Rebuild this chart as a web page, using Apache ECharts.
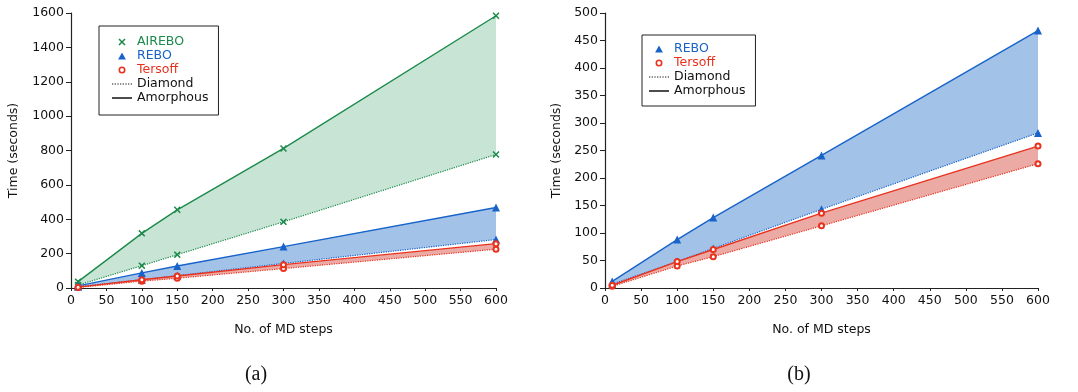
<!DOCTYPE html>
<html><head><meta charset="utf-8">
<script src="https://cdn.jsdelivr.net/npm/echarts@6/dist/echarts.min.js"></script>
<style>html,body{margin:0;padding:0;background:#fff}#c{width:1078px;height:392px}</style>
</head><body><div id="c"></div>
<script>
// ---- data ----
const steps = [10, 100, 150, 300, 600];
const aireboAmorphous = [37, 318, 455, 812, 1584];
const aireboDiamond = [17, 130, 194, 385, 777];
const reboAmorphous = [12, 88, 128, 241, 468];
const reboDiamond = [7, 48, 72, 143, 282];
const tersoffAmorphous = [5, 48, 70, 136, 258];
const tersoffDiamond = [3, 40, 57, 113, 226];
const captions = ['(a)', '(b)'];

// ---- styling ----
const FONT = 'DejaVu Sans';
const C = {
  green: '#1b8a4b', greenFill: '#c8e4d5',
  blue: '#1763c9', blueFill: '#a3c2e8',
  red: '#e8321e', redFill: '#ecaaa5'
};
const iconCross = 'path://M0,1.5L1.5,0L5,3.5L8.5,0L10,1.5L6.5,5L10,8.5L8.5,10L5,6.5L1.5,10L0,8.5L3.5,5Z';
const iconTri = 'path://M5,0L10,9L0,9Z';
const iconRing = 'path://M5,0A5,5,0,1,1,5,10A5,5,0,1,1,5,0ZM5,2.3A2.7,2.7,0,1,0,5,7.7A2.7,2.7,0,1,0,5,2.3Z';
const iconSolid = 'path://M0,0L20,0L20,1.5L0,1.5Z';
let dp = '';
for (let x = 0; x < 20; x += 2.6) dp += 'M' + x + ',0L' + (x + 1.2) + ',0L' + (x + 1.2) + ',1.2L' + x + ',1.2Z';
const iconDotted = 'path://' + dp;

function group(name, amorph, diamond, color, fill, symbol, size, idx, z, extra) {
  const itemStyle = Object.assign({ color: color }, extra || {});
  const bandData = steps.map((s, i) => [s, diamond[i], amorph[i]]);
  return [
    {
      name: name + ' band', type: 'custom', xAxisIndex: idx, yAxisIndex: idx, z: z,
      data: bandData, encode: { x: 0, y: [1, 2] }, silent: true,
      renderItem: function (params, api) {
        if (params.dataIndex !== 0) return null;
        const top = bandData.map(d => api.coord([d[0], d[2]]));
        const bot = bandData.map(d => api.coord([d[0], d[1]])).reverse();
        return { type: 'polygon', shape: { points: top.concat(bot) }, style: { fill: fill } };
      }
    },
    {
      name: name + ' diamond', type: 'line', xAxisIndex: idx, yAxisIndex: idx, z: z + 1,
      data: steps.map((s, i) => [s, diamond[i]]),
      symbol: symbol, symbolSize: size, showSymbol: true, itemStyle: itemStyle,
      lineStyle: { color: color, width: 1.2, type: 'dotted' }, emphasis: { disabled: true }
    },
    {
      name: name, type: 'line', xAxisIndex: idx, yAxisIndex: idx, z: z + 1,
      data: steps.map((s, i) => [s, amorph[i]]),
      symbol: symbol, symbolSize: size, showSymbol: true, itemStyle: itemStyle,
      lineStyle: { color: color, width: 1.4 }, emphasis: { disabled: true }
    }
  ];
}

const axisBase = {
  axisLine: { show: true, lineStyle: { color: '#222', width: 1.2 } },
  splitLine: { show: false },
  axisLabel: { color: '#111', fontFamily: FONT, fontSize: 12.5, formatter: v => String(v) },
  nameTextStyle: { color: '#111', fontFamily: FONT, fontSize: 12.5 },
  nameLocation: 'middle'
};
function xAx(idx) {
  return Object.assign({}, axisBase, {
    type: 'value', gridIndex: idx, min: 0, max: 600, interval: 50,
    name: 'No. of MD steps', nameGap: 35,
    axisTick: { show: true, length: 3, lineStyle: { color: '#222' } },
    axisLabel: Object.assign({}, axisBase.axisLabel, { margin: 6 })
  });
}
function yAx(idx, max, interval, gap) {
  return Object.assign({}, axisBase, {
    type: 'value', gridIndex: idx, min: 0, max: max, interval: interval,
    name: 'Time (seconds)', nameGap: gap,
    axisTick: { show: true, length: 5, lineStyle: { color: '#222' } },
    axisLabel: Object.assign({}, axisBase.axisLabel, { margin: 7 })
  });
}

const legendCommon = {
  orient: 'vertical', itemWidth: 20, itemHeight: 7, itemGap: 0,
  borderColor: '#222', borderWidth: 1, backgroundColor: '#fff',
  selectedMode: false, symbolKeepAspect: true,
  textStyle: { fontFamily: FONT, fontSize: 12.5, color: '#111', lineHeight: 14 }
};
const L = {
  AIREBO: { name: 'AIREBO', icon: iconCross, itemStyle: { color: C.green, borderWidth: 0 }, textStyle: { color: C.green } },
  REBO: { name: 'REBO', icon: iconTri, itemStyle: { color: C.blue, borderWidth: 0 }, textStyle: { color: C.blue } },
  Tersoff: { name: 'Tersoff', icon: iconRing, itemStyle: { color: C.red, borderWidth: 0 }, textStyle: { color: C.red } },
  Diamond: { name: 'Diamond', icon: iconDotted, itemStyle: { color: '#111', borderWidth: 0 } },
  Amorphous: { name: 'Amorphous', icon: iconSolid, itemStyle: { color: '#111', borderWidth: 0 } }
};

const series = [].concat(
  group('AIREBO', aireboAmorphous, aireboDiamond, C.green, C.greenFill, iconCross, 7, 0, 2),
  group('REBO', reboAmorphous, reboDiamond, C.blue, C.blueFill, 'triangle', 8, 0, 4),
  group('Tersoff', tersoffAmorphous, tersoffDiamond, C.red, C.redFill, 'emptyCircle', 5, 0, 6, { borderWidth: 1.2 }),
  group('REBO', reboAmorphous, reboDiamond, C.blue, C.blueFill, 'triangle', 8, 1, 4),
  group('Tersoff', tersoffAmorphous, tersoffDiamond, C.red, C.redFill, 'emptyCircle', 5, 1, 6, { borderWidth: 1.2 }),
  [
    { name: 'Diamond', type: 'line', xAxisIndex: 0, yAxisIndex: 0, data: [], symbol: 'none', lineStyle: { type: 'dotted', color: '#111' } },
    { name: 'Amorphous', type: 'line', xAxisIndex: 0, yAxisIndex: 0, data: [], symbol: 'none', lineStyle: { color: '#111' } }
  ]
);

const chart = echarts.init(document.getElementById('c'), null, { renderer: 'canvas' });
chart.setOption({
  animation: false,
  backgroundColor: '#fff',
  grid: [
    { left: 71, top: 13, width: 425, height: 275 },
    { left: 605, top: 13, width: 433, height: 275 }
  ],
  xAxis: [xAx(0), xAx(1)],
  yAxis: [yAx(0, 1600, 200, 51), yAx(1, 500, 50, 42)],
  legend: [
    Object.assign({}, legendCommon, { left: 99, top: 26, padding: [9, 10, 10, 13],
      data: [L.AIREBO, L.REBO, L.Tersoff, L.Diamond, L.Amorphous] }),
    Object.assign({}, legendCommon, { left: 642, top: 35, padding: [7, 10, 8, 7],
      data: [L.REBO, L.Tersoff, L.Diamond, L.Amorphous] })
  ],
  graphic: [
    { type: 'text', x: 256, y: 375, style: { text: captions[0], font: '20px "Liberation Serif"', fill: '#111', align: 'center', verticalAlign: 'middle' } },
    { type: 'text', x: 799, y: 375, style: { text: captions[1], font: '20px "Liberation Serif"', fill: '#111', align: 'center', verticalAlign: 'middle' } }
  ],
  series: series
});
</script>
</body></html>
